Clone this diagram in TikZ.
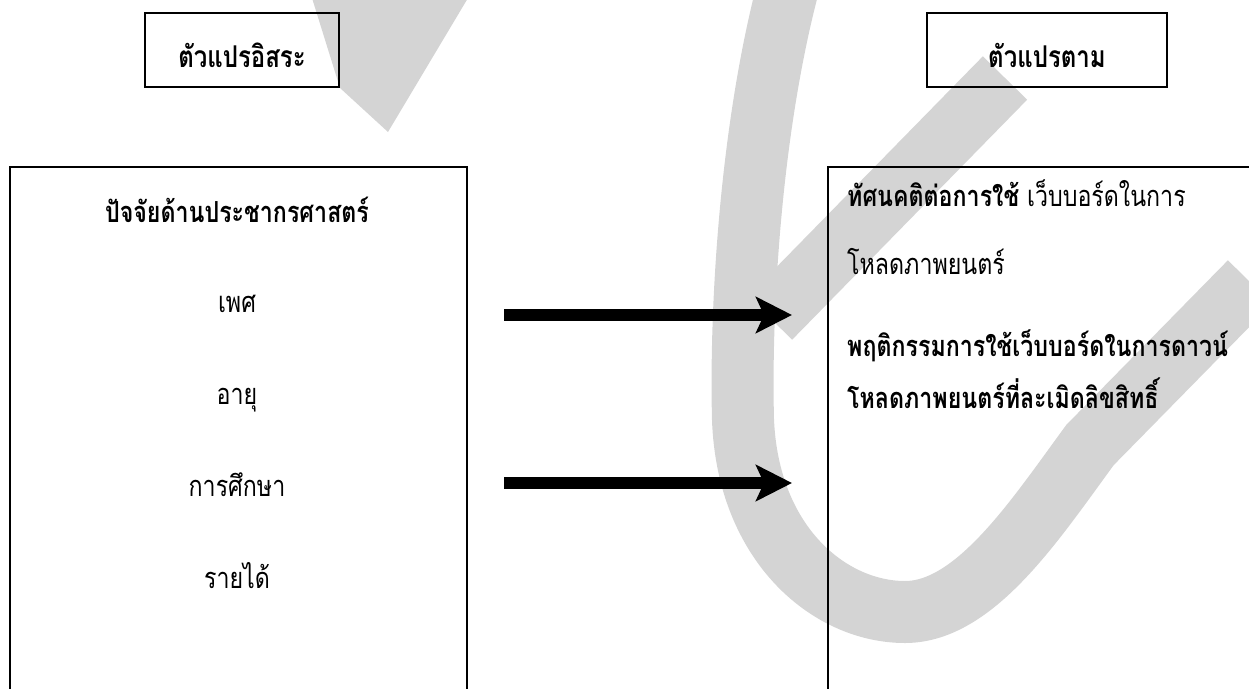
\documentclass[tikz,border=0pt]{standalone}
\usepackage{fontspec}
\newfontfamily\thaifont[Script=Thai, FakeStretch=0.8]{Loma}
\usetikzlibrary{arrows.meta, positioning}
\definecolor{wmgray}{RGB}{212,212,212}

\begin{document}
\begin{tikzpicture}[
        x=1pt, y=-1pt,
        headbox/.style={
            rectangle,
            draw=black,
            line width=1.8pt,
            minimum height=74pt,
            inner sep=0pt,
            text height=42pt,
            text depth=8pt,
            font=\thaifont\fontsize{30}{34}\selectfont\bfseries
        },
        bigbox/.style={
            rectangle,
            draw=black,
            line width=1.6pt,
            anchor=north west,
            inner sep=0pt,
            minimum height=560pt
        },
        txt/.style={
            inner sep=0pt,
            font=\thaifont\fontsize{29}{34}\selectfont
        },
        txtb/.style={
            inner sep=0pt,
            font=\thaifont\fontsize{29}{34}\selectfont\bfseries
        },
        arrow/.style={
            -{Stealth[length=36pt, width=36pt, inset=8pt]},
            line width=12pt,
            draw=black
        },
        band/.style={
            line width=62pt,
            draw=wmgray
        }
    ]
        \useasboundingbox (0,0) rectangle (1249,688);
        \clip (0,0) rectangle (1249,688);

        % watermark behind everything
        \fill [wmgray] (312,-2) -- (468,-2) -- (388,132) -- (340,88) -- cycle;
        \draw [band] (1005,78) -- (770,318);
        \draw [band] (790,-20) .. controls (752,120) and (740,300) .. (743,420)
            .. controls (748,545) and (830,612) .. (905,612)
            .. controls (975,612) and (1035,520) .. (1090,445) -- (1250,282);

        % top labels
        \node (indep) [headbox, minimum width=194pt] at (242,50) {ตัวแปรอิสระ};
        \node (dep) [headbox, minimum width=240pt] at (1047,50) {ตัวแปรตาม};

        % frames
        \node (demo) [bigbox, minimum width=457pt] at (9,166) {};
        \node (attit) [bigbox, minimum width=460pt] at (827,166) {};

        % left side
        \node (dtitle) [txtb, anchor=base] at (237,222) {ปัจจัยด้านประชากรศาสตร์};
        \node (sex) [txt, below=90pt of dtitle.base, anchor=base] {เพศ};
        \node (age) [txt, below=92pt of sex.base, anchor=base] {อายุ};
        \node (edu) [txt, below=92pt of age.base, anchor=base] {การศึกษา};
        \node (inc) [txt, below=92pt of edu.base, anchor=base] {รายได้};

        % right side
        \node (att1) [txt, anchor=base west] at (847,206) {{\bfseries ทัศนคติต่อการใช้} เว็บบอร์ดในการ};
        \node (att2) [txt, below=68pt of att1.base west, anchor=base west] {โหลดภาพยนตร์};
        \node (beh1) [txtb, below=82pt of att2.base west, anchor=base west] {พฤติกรรมการใช้เว็บบอร์ดในการดาวน์};
        \node (beh2) [txtb, below=52pt of beh1.base west, anchor=base west] {โหลดภาพยนตร์ที่ละเมิดลิขสิทธิ์};

        % arrows
        \coordinate (a1s) at (504,315);
        \coordinate (a1e) at (792,315);
        \coordinate (a2s) at (504,483);
        \coordinate (a2e) at (792,483);
        \draw [arrow] (a1s) -- (a1e);
        \draw [arrow] (a2s) -- (a2e);
\end{tikzpicture}
\end{document}
